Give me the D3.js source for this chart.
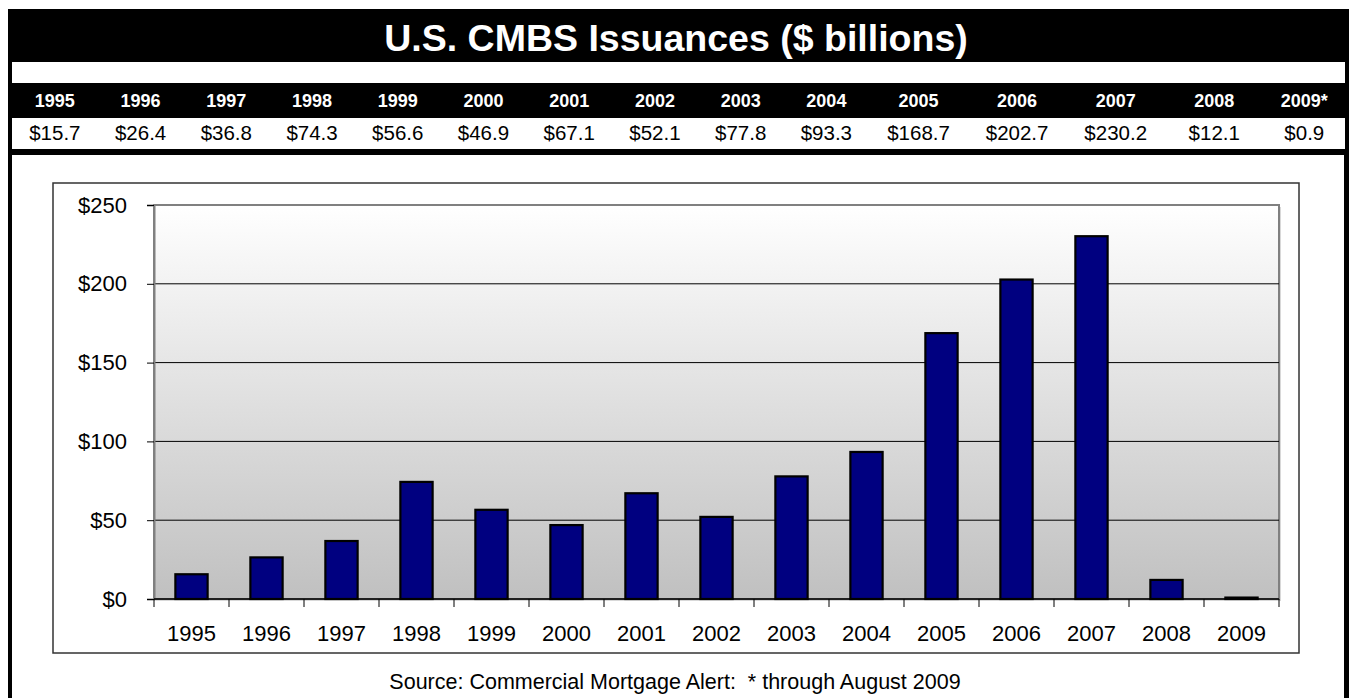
<!DOCTYPE html>
<html>
<head>
<meta charset="utf-8">
<script src="https://cdn.jsdelivr.net/npm/d3@7"></script>
<style>
	body { margin: 0; background: #fff; }
	svg { display: block; font-family: Arial, "Liberation Sans", sans-serif; }
</style>
</head>
<body>
<div id="chart"></div>
<script>

var years = ["1995","1996","1997","1998","1999","2000","2001","2002","2003","2004","2005","2006","2007","2008","2009"]
var tableYears = ["1995","1996","1997","1998","1999","2000","2001","2002","2003","2004","2005","2006","2007","2008","2009*"]
var issuance = [15.7,26.4,36.8,74.3,56.6,46.9,67.1,52.1,77.8,93.3,168.7,202.7,230.2,12.1,0.9]
var yTicks = [0,50,100,150,200,250]

var titleText = "U.S. CMBS Issuances ($ billions)"
var sourceText = "Source: Commercial Mortgage Alert:  * through August 2009"

var width = 1349,
	height = 698;

var svg = d3.select("#chart").append("svg")
	.attr("width",width)
	.attr("height",height)

// outer black frame + title band
var frame = {left: 8, right: 1349, top: 9}
svg.append("rect")
	.attr("x",frame.left)
	.attr("y",frame.top)
	.attr("width",frame.right-frame.left)
	.attr("height",height-frame.top+10)
	.attr("fill","#000")

svg.append("rect")
	.attr("x",12)
	.attr("y",62)
	.attr("width",1333)
	.attr("height",21)
	.attr("fill","#fff")

svg.append("rect")
	.attr("x",12)
	.attr("y",118)
	.attr("width",1333)
	.attr("height",31)
	.attr("fill","#fff")

svg.append("rect")
	.attr("x",12)
	.attr("y",155)
	.attr("width",1332)
	.attr("height",height-155+10)
	.attr("fill","#fff")

svg.append("text")
	.attr("x",676)
	.attr("y",51)
	.attr("text-anchor","middle")
	.attr("fill","#fff")
	.attr("font-weight","bold")
	.attr("font-size",37.5)
	.text(titleText)

// data table - the later columns are a bit wider (longer numbers), last one narrower
var colWeights = tableYears.map(function(d,i){return i<10 ? 1 : (i<14 ? 1.15 : 0.95)})
var totalW = d3.sum(colWeights)
var colPos = d3.scaleLinear().domain([0,totalW]).range([12,1345])
var colCenter = colWeights.map(function(w,i){
	return colPos(d3.sum(colWeights.slice(0,i)) + w/2)
})

svg.selectAll(".hdr")
	.data(tableYears).enter()
	.append("text")
	.attr("class","hdr")
	.attr("x",function(d,i){return colCenter[i]})
	.attr("y",107)
	.attr("text-anchor","middle")
	.attr("fill","#fff")
	.attr("font-weight","bold")
	.attr("font-size",18)
	.text(function(d){return d})

svg.selectAll(".val")
	.data(issuance).enter()
	.append("text")
	.attr("class","val")
	.attr("x",function(d,i){return colCenter[i]})
	.attr("y",140)
	.attr("text-anchor","middle")
	.attr("fill","#000")
	.attr("font-size",20.5)
	.text(function(d){return "$"+d.toFixed(1)})

// chart box
svg.append("rect")
	.attr("x",53)
	.attr("y",183)
	.attr("width",1246)
	.attr("height",470)
	.attr("fill","#fff")
	.attr("stroke","#333")
	.attr("stroke-width",1.5)

var plot = {left: 154, right: 1279, top: 205, bottom: 599}

var xScale = d3.scaleBand()
	.domain(years)
	.range([plot.left,plot.right])

var yScale = d3.scaleLinear()
	.domain([0,250])
	.range([plot.bottom,plot.top])

var grad = svg.append("defs").append("linearGradient")
	.attr("id","bg")
	.attr("x1",0).attr("y1",0)
	.attr("x2",0).attr("y2",1)
grad.append("stop").attr("offset","0%").attr("stop-color","#ffffff")
grad.append("stop").attr("offset","100%").attr("stop-color","#c0c0c0")

// shadow on right side of plot
svg.append("rect")
	.attr("x",plot.left+2)
	.attr("y",plot.top+2)
	.attr("width",plot.right-plot.left)
	.attr("height",plot.bottom-plot.top)
	.attr("fill","#d8d8d8")

svg.append("rect")
	.attr("x",plot.left)
	.attr("y",plot.top)
	.attr("width",plot.right-plot.left)
	.attr("height",plot.bottom-plot.top)
	.attr("fill","url(#bg)")
	.attr("stroke","#808080")
	.attr("stroke-width",2)

// gridlines
svg.selectAll(".grid")
	.data(yTicks.filter(function(d){return d>0 && d<250})).enter()
	.append("line")
	.attr("class","grid")
	.attr("x1",plot.left)
	.attr("x2",plot.right)
	.attr("y1",function(d){return yScale(d)})
	.attr("y2",function(d){return yScale(d)})
	.attr("stroke","#000")
	.attr("stroke-width",1)

// bars
var barW = xScale.bandwidth()*0.43
svg.selectAll(".bar")
	.data(issuance).enter()
	.append("rect")
	.attr("class","bar")
	.attr("x",function(d,i){return xScale(years[i])+(xScale.bandwidth()-barW)/2})
	.attr("y",function(d){return yScale(d)})
	.attr("width",barW)
	.attr("height",function(d){return yScale(0)-yScale(d)})
	.attr("fill","#000080")
	.attr("stroke","#000")
	.attr("stroke-width",2.2)

// y axis
var yAxis = svg.append("g")
	.attr("transform","translate("+plot.left+",0)")
	.call(d3.axisLeft(yScale).tickValues(yTicks).tickSize(7).tickPadding(20)
		.tickFormat(function(d){return "$"+d}))
yAxis.select(".domain").attr("stroke","#808080").attr("stroke-width",2)
yAxis.selectAll(".tick line").attr("stroke","#000")
yAxis.selectAll(".tick text")
	.attr("font-family","Arial, 'Liberation Sans', sans-serif")
	.attr("font-size",22)
	.attr("fill","#000")

// x axis with ticks at category boundaries
var xAxis = svg.append("g")
	.attr("transform","translate(0,"+plot.bottom+")")
xAxis.append("line")
	.attr("x1",plot.left)
	.attr("x2",plot.right)
	.attr("stroke","#000")
	.attr("stroke-width",1.5)
xAxis.selectAll(".xt")
	.data(years.concat(["end"])).enter()
	.append("line")
	.attr("class","xt")
	.attr("x1",function(d){return d=="end" ? plot.right : xScale(d)})
	.attr("x2",function(d){return d=="end" ? plot.right : xScale(d)})
	.attr("y1",0)
	.attr("y2",8)
	.attr("stroke","#000")
xAxis.selectAll(".xl")
	.data(years).enter()
	.append("text")
	.attr("class","xl")
	.attr("x",function(d){return xScale(d)+xScale.bandwidth()/2})
	.attr("y",42)
	.attr("text-anchor","middle")
	.attr("font-size",22)
	.attr("fill","#000")
	.text(function(d){return d})

svg.append("text")
	.attr("x",675)
	.attr("y",689)
	.attr("text-anchor","middle")
	.attr("font-size",21.5)
	.attr("fill","#000")
	.attr("xml:space","preserve")
	.style("white-space","pre")
	.text(sourceText)

</script>
</body>
</html>
